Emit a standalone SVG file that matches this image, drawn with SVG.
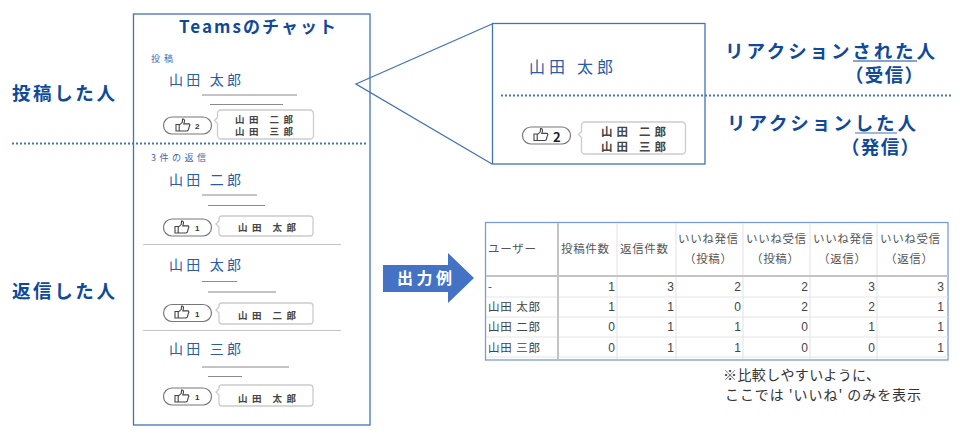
<svg xmlns="http://www.w3.org/2000/svg" width="960" height="439" viewBox="0 0 960 439">
<style>
text{font-family:"Noto Sans CJK JP","Liberation Sans",sans-serif}
.box{fill:#fff;stroke:#4472b8;stroke-width:1.300}
.dot{fill:none;stroke:#4472c4;stroke-width:2;stroke-dasharray:2 2}
.big{font-size:17px;font-weight:700;fill:#0f4a9a}
.lab{font-size:18.500px;font-weight:700;fill:#0f4a9a}
.name{font-size:14px;fill:#2a5ca8}
.small{font-size:9px;fill:#3a68b0}
.who{font-size:9.500px;font-weight:700;fill:#444}
.pill{fill:#fff;stroke:#777;stroke-width:1.200}
.bub{fill:#fff;stroke:#ccc;stroke-width:1.300}
.ln{stroke:#8a8a8a;stroke-width:1.200}
.sep{stroke:#c4c4c4;stroke-width:1.200}
.cnt{font-size:8px;font-weight:700;fill:#333;font-family:"Liberation Sans",sans-serif}
.th{font-size:11.500px;fill:#555}
.td{font-size:11.500px;fill:#444}
.num{font-size:12px;fill:#444;text-anchor:end;font-family:"Liberation Sans",sans-serif}
.gl{stroke:#e6e6e6;stroke-width:1.200}
.gh{stroke:#c4c4c4;stroke-width:2}
</style>
<defs>
<g id="thumb"><path d="M0 4.500h3.200v6.500H0zM3.200 5.200 6.200 2.600 6.600-1c1.600-.3 2.200 1.200 1.800 2.600L7.800 3.900h5c1.400 0 1.200 1.500.6 2.300L12.300 10c-.3.8-.9 1-1.800 1H3.200" fill="#fff" stroke="#444" stroke-width="1.100"/></g>
</defs>

<g id="chat">
<rect class="box" x="133.500" y="14" width="236.500" height="411"/>
<text class="big" x="179" y="33" textLength="157" lengthAdjust="spacing">Teamsのチャット</text>
<text class="small" x="151" y="62" textLength="22">投稿</text>
<text class="small" x="151" y="160.500" textLength="55">3件の返信</text>
</g>

<g id="post">
<text class="name" x="169" y="85" textLength="72">山田 太郎</text>
<line class="ln" x1="202" y1="95" x2="297" y2="95"/><line class="ln" x1="210" y1="104.500" x2="283" y2="104.500"/>
<rect class="pill" x="163.500" y="117" width="48" height="17" rx="8.500"/><use href="#thumb" x="176" y="120"/><text class="cnt" x="195" y="129">2</text>
<path class="bub" d="M221 110h89a3.500 3.500 0 0 1 3.500 3.500v22a3.500 3.500 0 0 1-3.500 3.500h-89a3.500 3.500 0 0 1-3.500-3.500v-12l-3-3 3-3v-4a3.500 3.500 0 0 1 3.500-3.500z"/>
<text class="who"><tspan x="235" y="122.500" textLength="58">山田 二郎</tspan><tspan x="235" y="135" textLength="58">山田 三郎</tspan></text>
</g>

<g id="reply1">
<text class="name" x="169" y="184.500" textLength="72">山田 二郎</text>
<line class="ln" x1="202" y1="195" x2="257" y2="195"/><line class="ln" x1="208" y1="205.500" x2="265" y2="205.500"/>
<rect class="pill" x="163.500" y="219" width="48" height="17" rx="8.500"/><use href="#thumb" x="175" y="222"/><text class="cnt" x="195" y="231">1</text>
<path class="bub" d="M222 216h88a3 3 0 0 1 3 3v14a3 3 0 0 1-3 3h-88a3 3 0 0 1-3-3v-6l-3-3 3-3v-2a3 3 0 0 1 3-3z"/>
<text class="who" x="238" y="231" textLength="58">山田 太郎</text>
</g>
<line class="sep" x1="143" y1="244.500" x2="341" y2="244.500"/>

<g id="reply2">
<text class="name" x="169" y="270" textLength="72">山田 太郎</text>
<line class="ln" x1="202" y1="281.500" x2="237" y2="281.500"/><line class="ln" x1="208" y1="292" x2="276" y2="292"/>
<rect class="pill" x="163.500" y="304.500" width="48" height="17" rx="8.500"/><use href="#thumb" x="175" y="307"/><text class="cnt" x="195" y="316.500">1</text>
<path class="bub" d="M222 303h88a3 3 0 0 1 3 3v15a3 3 0 0 1-3 3h-88a3 3 0 0 1-3-3v-8l-3-3 3-3v-1a3 3 0 0 1 3-3z"/>
<text class="who" x="238" y="319" textLength="58">山田 二郎</text>
</g>
<line class="sep" x1="143" y1="330.500" x2="341" y2="330.500"/>

<g id="reply3">
<text class="name" x="169" y="354" textLength="72">山田 三郎</text>
<line class="ln" x1="202" y1="367" x2="289" y2="367"/><line class="ln" x1="208" y1="376.500" x2="242" y2="376.500"/>
<rect class="pill" x="163.500" y="388" width="48" height="17" rx="8.500"/><use href="#thumb" x="175" y="391"/><text class="cnt" x="195" y="400">1</text>
<path class="bub" d="M222 385h88a3 3 0 0 1 3 3v15a3 3 0 0 1-3 3h-88a3 3 0 0 1-3-3v-8l-3-3 3-3v-1a3 3 0 0 1 3-3z"/>
<text class="who" x="238" y="402" textLength="58">山田 太郎</text>
</g>

<g id="labels">
<text class="lab" x="12" y="100" textLength="103">投稿した人</text>
<text class="lab" x="12" y="298" textLength="103">返信した人</text>
</g>

<g id="connectors">
<path d="M492 24 356 84 492 164" fill="none" stroke="#4472b8" stroke-width="1.300"/>
<line class="dot" x1="12" y1="143.500" x2="366" y2="143.500"/>
</g>

<g id="zoom">
<rect class="box" x="492.500" y="23.500" width="212.500" height="140.500"/>
<text x="529" y="73" font-size="16" fill="#2a5ca8" textLength="84">山田 太郎</text>
<rect class="pill" x="522.500" y="127" width="48" height="17" rx="8.500" stroke-width="1"/><use href="#thumb" x="534" y="129.500"/><text x="553" y="142" font-size="13" font-weight="700" fill="#222" font-family="Liberation Sans">2</text>
<path class="bub" d="M585 122h97a3.500 3.500 0 0 1 3.500 3.500v25a3.500 3.500 0 0 1-3.500 3.500h-97a3.500 3.500 0 0 1-3.500-3.500v-13l-3-3 3-3v-6a3.500 3.500 0 0 1 3.500-3.500z"/>
<text class="who" style="font-size:11.500px"><tspan x="601" y="136" textLength="65">山田 二郎</tspan><tspan x="601" y="151" textLength="65">山田 三郎</tspan></text>
</g>
<line class="dot" x1="501" y1="95.500" x2="951" y2="95.500"/>

<g id="reaction">
<text class="lab" x="725" y="58" textLength="210">リアクションされた人</text>
<line x1="853" y1="61" x2="917" y2="61" stroke="#0f4a9a" stroke-width="1.200"/>
<text class="lab" x="845" y="82" textLength="78">（受信）</text>
<text class="lab" x="727" y="130" textLength="189">リアクションした人</text>
<line x1="855" y1="133" x2="897" y2="133" stroke="#4472b8" stroke-width="1.200"/>
<text class="lab" x="841" y="154" textLength="78">（発信）</text>
</g>

<g id="arrow">
<path d="M383 265H448V253L474 278 448 303V292H383z" fill="#4472c4"/>
<text x="397" y="284" font-size="16" font-weight="700" fill="#fff" textLength="55">出力例</text>
</g>

<g id="table">
<rect x="485.500" y="222.500" width="462.500" height="137.500" fill="#fff" stroke="#7a9bd4" stroke-width="1.300"/>
<path class="gl" d="M617 223V359M676 223V359M743 223V359M810 223V359M877 223V359M486 297H948M486 317H948M486 337H948M486 357H948"/>
<path class="gh" d="M558 223V359M486 276H948"/>
<text class="th" x="488" y="253" textLength="48">ユーザー</text>
<text class="th" x="561" y="253" textLength="48">投稿件数</text>
<text class="th" x="620" y="253" textLength="48">返信件数</text>
<text class="th" x="678" y="243" textLength="60">いいね発信</text><text class="th" x="684" y="263" textLength="48">（投稿）</text>
<text class="th" x="746" y="243" textLength="60">いいね受信</text><text class="th" x="751" y="263" textLength="48">（投稿）</text>
<text class="th" x="813" y="243" textLength="60">いいね発信</text><text class="th" x="818" y="263" textLength="48">（返信）</text>
<text class="th" x="880" y="243" textLength="60">いいね受信</text><text class="th" x="885" y="263" textLength="48">（返信）</text>
<text class="td" x="488" y="291">-</text>
<text class="td" x="488" y="311" textLength="52">山田 太郎</text>
<text class="td" x="488" y="331" textLength="52">山田 二郎</text>
<text class="td" x="488" y="352" textLength="52">山田 三郎</text>
<g class="nums">
<text class="num" x="615" y="291">1</text><text class="num" x="674" y="291">3</text><text class="num" x="741" y="291">2</text><text class="num" x="808" y="291">2</text><text class="num" x="875" y="291">3</text><text class="num" x="944" y="291">3</text>
<text class="num" x="615" y="311">1</text><text class="num" x="674" y="311">1</text><text class="num" x="741" y="311">0</text><text class="num" x="808" y="311">2</text><text class="num" x="875" y="311">2</text><text class="num" x="944" y="311">1</text>
<text class="num" x="615" y="331">0</text><text class="num" x="674" y="331">1</text><text class="num" x="741" y="331">1</text><text class="num" x="808" y="331">0</text><text class="num" x="875" y="331">1</text><text class="num" x="944" y="331">1</text>
<text class="num" x="615" y="352">0</text><text class="num" x="674" y="352">1</text><text class="num" x="741" y="352">1</text><text class="num" x="808" y="352">0</text><text class="num" x="875" y="352">0</text><text class="num" x="944" y="352">1</text>
</g>
</g>

<g id="note">
<text x="723" y="380" font-size="14" fill="#333" textLength="157">※比較しやすいように、</text>
<text x="725" y="400" font-size="14" fill="#333" textLength="196">ここでは 'いいね' のみを表示</text>
</g>
</svg>
